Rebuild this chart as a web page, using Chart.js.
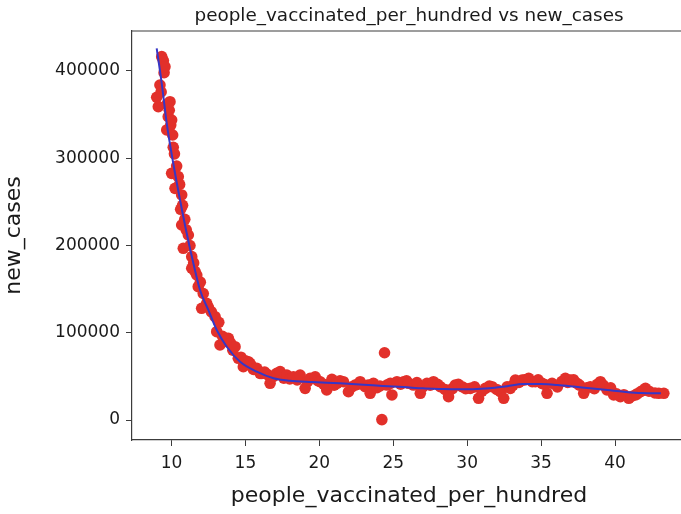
<!DOCTYPE html>
<html>
<head>
<meta charset="utf-8">
<script src="https://cdn.jsdelivr.net/npm/chart.js@4/dist/chart.umd.min.js"></script>
<style>
  html, body { margin: 0; padding: 0; background: #fff; overflow: hidden; }
  #wrap { width: 700px; height: 514px; }
</style>
</head>
<body>
<div id="wrap"><canvas id="c" width="700" height="514"></canvas></div>
<script>
// Daily observations: share of people vaccinated vs new cases
const vaccinated = [
  9.00, 9.11, 9.22, 9.30, 9.34, 9.45, 9.50, 9.56, 9.68, 9.70, 9.78, 9.85, 9.90, 9.95,
  10.01, 10.08, 10.12, 10.01, 10.20, 10.24, 10.35, 10.46, 10.55, 10.62, 10.69, 10.69,
  10.75, 10.80, 10.90, 11.00, 11.14, 11.25, 11.37, 11.37, 11.50, 11.60, 11.71, 11.81,
  11.95, 12.04, 12.15, 12.38, 12.50, 12.70, 12.95, 13.06, 13.20, 13.28, 13.45, 13.60,
  13.85, 14.00, 14.15, 14.30, 14.52, 14.70, 14.86, 15.00, 15.20, 15.31, 15.40, 15.55,
  15.77, 15.99, 16.11, 16.30, 16.50, 16.67, 16.90, 17.12, 17.35, 17.60, 17.80, 18.00,
  18.25, 18.50, 18.70, 19.04, 19.20, 19.38, 19.72, 19.90, 20.05, 20.30, 20.50, 20.85,
  21.00, 21.19, 21.40, 21.63, 21.97, 22.20, 22.42, 22.60, 22.76, 23.10, 23.30, 23.44,
  23.66, 23.90, 24.10, 24.23, 24.41, 24.57, 24.80, 24.91, 25.25, 25.50, 25.70, 25.90,
  26.03, 26.37, 26.60, 26.83, 27.00, 27.28, 27.50, 27.72, 28.00, 28.18, 28.50, 28.74,
  29.00, 29.19, 29.40, 29.65, 29.90, 30.21, 30.50, 30.77, 31.00, 31.23, 31.50, 31.68,
  32.00, 32.24, 32.47, 32.70, 32.92, 33.10, 33.26, 33.50, 33.71, 33.90, 34.16, 34.40,
  34.61, 34.80, 35.06, 35.20, 35.40, 35.74, 36.10, 36.40, 36.64, 36.80, 36.98, 37.20,
  37.43, 37.60, 37.88, 38.10, 38.33, 38.60, 38.80, 39.01, 39.20, 39.46, 39.70, 39.91,
  40.10, 40.36, 40.60, 40.93, 41.10, 41.38, 41.50, 41.72, 41.90, 42.06, 42.30, 42.70,
  42.96, 43.30
];
const newCases = [
  369900, 359100, 383900, 376000, 416400, 412000, 398000, 404900, 332400, 362000, 347600, 355000, 364800, 338000,
  343800, 326600, 312500, 282700, 305000, 265500, 291000, 278900, 270000, 241500, 257900, 223500,
  246000, 196800, 230000, 218000, 212000, 200000, 187200, 173900, 180000, 170000, 166200, 152800,
  158000, 128000, 145000, 133800, 129000, 124000, 118400, 101200, 112000, 86000, 96000, 90000,
  93600, 88000, 80000, 84000, 70700, 72000, 61100, 68000, 66800, 65000, 62000, 58000,
  59300, 53500, 53500, 55000, 52000, 42100, 50000, 53500, 55400, 48000, 51600, 47000,
  49600, 46000, 51600, 36300, 44000, 47800, 49600, 45000, 43900, 41000, 34400, 46600,
  40000, 42100, 45000, 43900, 32400, 38000, 40100, 41000, 43900, 38200, 40000, 30600,
  42100, 37000, 39000, 500, 77100, 40100, 42000, 28700, 43900, 41000, 43900, 45000,
  42100, 40100, 43000, 30600, 38000, 42100, 40000, 43900, 41000, 38200, 35000, 26700,
  36000, 40100, 41000, 38200, 36000, 36300, 38000, 24900, 33000, 36300, 39000, 38200,
  35000, 32400, 24900, 38000, 36300, 40000, 45800, 43000, 45800, 46000, 47800, 44000,
  43900, 46000, 42100, 41000, 30600, 42100, 38000, 44000, 47800, 43000, 45800, 46000,
  42100, 40000, 30600, 37000, 38200, 36000, 41000, 43900, 40000, 34400, 37000, 28700,
  30000, 26700, 29000, 24900, 27000, 28700, 30000, 32400, 34000, 36300, 33000, 31000,
  30600, 30600
];

// Smoothed trend through the observations
const trendX = [
  9.00, 9.34, 9.68, 10.12, 10.58, 11.03, 11.48, 11.93, 12.49, 13.06, 13.74, 14.64, 15.77,
  16.90, 18.00, 19.50, 21.40, 23.00, 24.30, 25.70, 27.00, 28.20, 29.30, 30.40, 31.50,
  32.70, 33.80, 35.00, 36.10, 37.20, 38.30, 39.50, 40.60, 41.80, 43.10
];
const trendY = [
  426000, 385900, 340000, 294200, 252100, 214000, 179600, 149000, 126100, 103200, 84000, 66800, 55400,
  47800, 45000, 43500, 42000, 40500, 39000, 37800, 36300, 35600, 35200, 35300, 36300,
  38800, 41300, 41200, 40100, 38300, 36300, 34300, 32400, 30900, 30600
];

const xTicks = [10, 15, 20, 25, 30, 35, 40];
const yTicks = [0, 100000, 200000, 300000, 400000];

const chartTitle = 'people_vaccinated_per_hundred vs new_cases';
const xLabel = 'people_vaccinated_per_hundred';
const yLabel = 'new_cases';

const FONT = '"DejaVu Sans", sans-serif';
const INK = '#1a1a1a';
const SPINE = '#3c3c3c';

const scatterPts = vaccinated.map((v, i) => ({ x: v, y: newCases[i] }));
const trendPts = trendX.map((v, i) => ({ x: v, y: trendY[i] }));

// Title centred over the plot area, plus the top and right spines
const framePlugin = {
  id: 'frame',
  afterDraw(chart) {
    const { ctx, chartArea: a } = chart;
    ctx.save();
    ctx.strokeStyle = SPINE;
    ctx.lineWidth = 1.2;
    ctx.beginPath();
    ctx.moveTo(a.left, a.top);
    ctx.lineTo(a.right, a.top);
    ctx.lineTo(a.right, a.bottom);
    ctx.stroke();
    ctx.fillStyle = INK;
    ctx.font = '18.4px ' + FONT;
    ctx.textAlign = 'center';
    ctx.textBaseline = 'middle';
    ctx.fillText(chartTitle, (a.left + a.right) / 2, 16);
    ctx.restore();
  }
};

new Chart(document.getElementById('c'), {
  type: 'scatter',
  data: {
    datasets: [
      {
        type: 'line',
        data: trendPts,
        borderColor: '#3636c6',
        borderWidth: 2,
        pointRadius: 0,
        fill: false,
        cubicInterpolationMode: 'monotone',
        order: 0
      },
      {
        data: scatterPts,
        backgroundColor: '#e2302a',
        borderWidth: 0,
        pointRadius: 5.8,
        pointHoverRadius: 5.8,
        order: 1
      }
    ]
  },
  options: {
    responsive: false,
    animation: false,
    events: [],
    layout: { padding: { top: 31, right: 14, left: 0, bottom: 0 } },
    plugins: { legend: { display: false }, tooltip: { enabled: false }, title: { display: false } },
    scales: {
      x: {
        type: 'linear',
        min: 7.33,
        max: 44.8,
        afterBuildTicks: s => { s.ticks = xTicks.map(v => ({ value: v })); },
        afterFit: s => { s.height = 74; },
        grid: { display: true, drawOnChartArea: false, drawTicks: true, tickLength: 6, color: SPINE },
        border: { display: true, color: SPINE, width: 1.2 },
        ticks: { color: INK, font: { family: FONT, size: 17 }, padding: 7, maxRotation: 0 },
        title: { display: true, text: xLabel, color: INK, font: { family: FONT, size: 22 }, padding: { top: 0, bottom: 5 } }
      },
      y: {
        type: 'linear',
        min: -22900,
        max: 445800,
        afterBuildTicks: s => { s.ticks = yTicks.map(v => ({ value: v })); },
        afterFit: s => { s.width = 132; },
        grid: { display: true, drawOnChartArea: false, drawTicks: true, tickLength: 6, color: SPINE },
        border: { display: true, color: SPINE, width: 1.2 },
        ticks: { color: INK, font: { family: FONT, size: 17 }, padding: 6, callback: v => String(v) },
        title: { display: true, text: yLabel, color: INK, font: { family: FONT, size: 22 }, padding: { top: 1, bottom: 0 } }
      }
    }
  },
  plugins: [framePlugin]
});
</script>
</body>
</html>
